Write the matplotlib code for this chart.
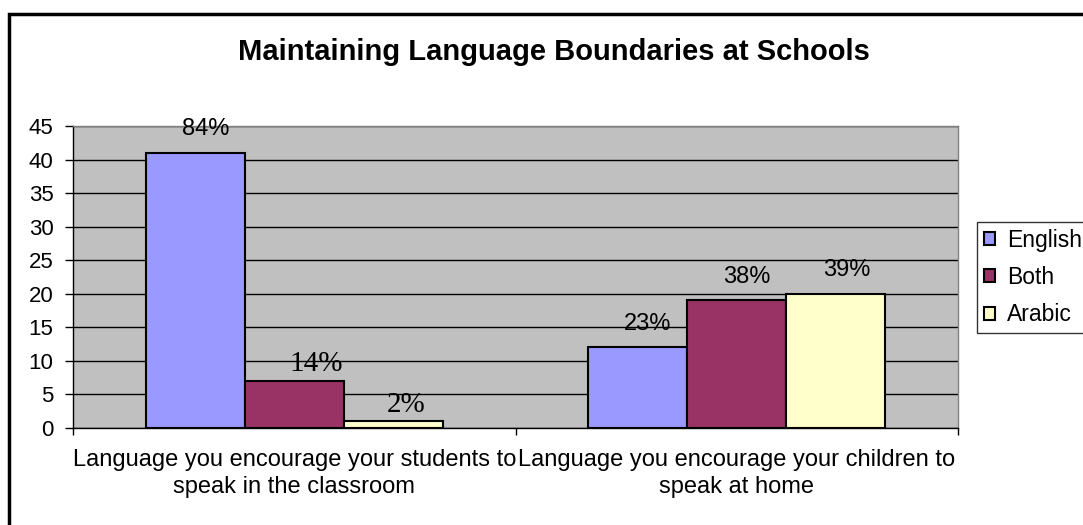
import numpy as np
import matplotlib.pyplot as plt
from matplotlib.patches import Rectangle

plt.rcParams['font.family'] = ['Liberation Sans', 'DejaVu Sans']

categories = ['Language you encourage your students to\nspeak in the classroom',
              'Language you encourage your children to\nspeak at home']
series_names = ['English', 'Both', 'Arabic']
english = [41, 12]
both = [7, 19]
arabic = [1, 20]
pct_labels = [['84%', '23%'], ['14%', '38%'], ['2%', '39%']]
# a few labels came out in a serif face, with their own offsets (points)
serif_offsets = {(1, 0): (16, 12), (2, 0): (9.5, 12)}

colors = ['#9999FF', '#993366', '#FFFFCC']

fig = plt.figure(figsize=(10.83, 5.25), dpi=100)
ax = fig.add_axes([73 / 1083, 97 / 525, 885 / 1083, 302 / 525])
ax.set_facecolor('#C0C0C0')

x = np.arange(len(categories))
width = 0.224
offsets = [-width, 0, width]
for i, (vals, name) in enumerate(zip([english, both, arabic], series_names)):
    bars = ax.bar(x + offsets[i], vals, width, color=colors[i], edgecolor='black',
                  linewidth=1.5, label=name, zorder=3)
    for j, b in enumerate(bars):
        pos = (b.get_x() + b.get_width() / 2, b.get_height())
        if (i, j) in serif_offsets:
            ax.annotate(pct_labels[i][j], pos, xytext=serif_offsets[(i, j)],
                        textcoords='offset points', ha='center', va='center',
                        fontsize=21, family=['Liberation Serif'], zorder=4)
        else:
            ax.annotate(pct_labels[i][j], pos, xytext=(7.5, 17), textcoords='offset points',
                        ha='center', va='center', fontsize=17, zorder=4)

ax.set_xlim(-0.5, 1.5)
ax.set_ylim(0, 45)
ax.set_yticks(np.arange(0, 46, 5))
ax.yaxis.grid(True, color='black', linewidth=1, zorder=1)
ax.set_axisbelow(True)

ax.set_xticks([-0.5, 0.5, 1.5])
ax.set_xticklabels([])
ax.set_xticks(x, minor=True)
ax.set_xticklabels(categories, minor=True, fontsize=17, linespacing=1.3)
ax.tick_params(axis='x', which='minor', length=0, pad=15)
ax.tick_params(axis='x', which='major', length=5, direction='out', width=1)
ax.tick_params(axis='y', length=6, direction='out', width=1, labelsize=16, pad=8)

for side in ['top', 'right']:
    ax.spines[side].set_color('#808080')
    ax.spines[side].set_linewidth(1)
for side in ['left', 'bottom']:
    ax.spines[side].set_color('black')
    ax.spines[side].set_linewidth(1)

fig.text(554 / 1083, 1 - 60 / 525, 'Maintaining Language Boundaries at Schools',
         ha='center', va='baseline', fontsize=21, fontweight='bold')

leg = fig.legend(loc='upper left', bbox_to_anchor=(977 / 1083, 1 - 222 / 525),
                 fontsize=16.5, frameon=True, fancybox=False, edgecolor='black',
                 handlelength=0.5, handleheight=0.5, handletextpad=0.5,
                 labelspacing=0.62, borderpad=0.3, borderaxespad=0)
leg.get_frame().set_linewidth(1)

# chart frame, only its top and left edges fall inside the canvas
fig.patches.append(Rectangle((9 / 1083, -0.1), 1.2, 1 - 14 / 525 + 0.1,
                             transform=fig.transFigure, fill=False,
                             edgecolor='black', linewidth=2.5))

fig.savefig('out.png', dpi=100)
